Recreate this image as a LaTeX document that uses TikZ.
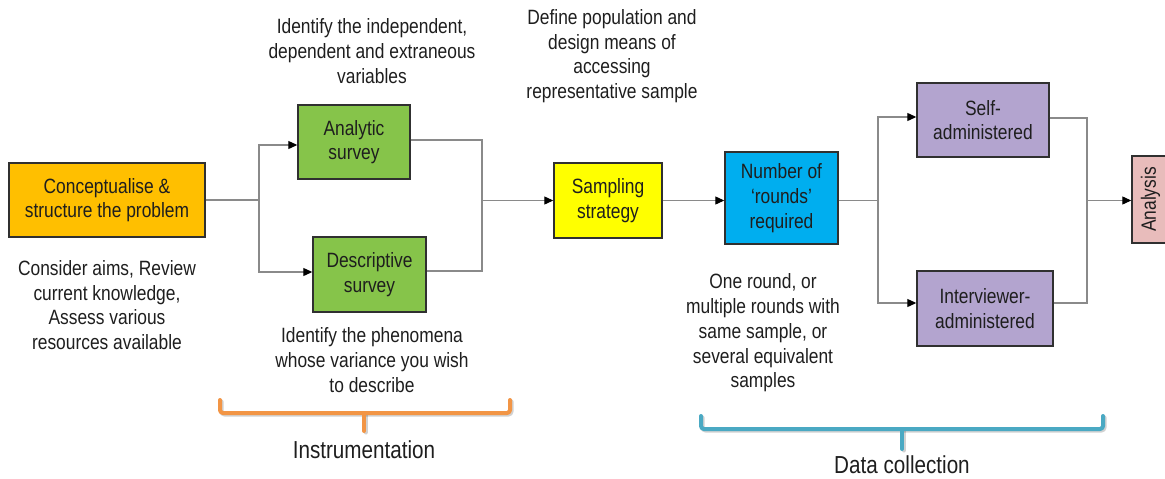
\documentclass[tikz,border=0pt]{standalone}
\usepackage{fontspec}
\setmainfont{Liberation Sans}[FakeStretch=0.84]
\usetikzlibrary{arrows.meta}
\definecolor{orangebox}{HTML}{FFBF00}
\definecolor{greenbox}{HTML}{86C44A}
\definecolor{yellowbox}{HTML}{FFFF00}
\definecolor{bluebox}{HTML}{00AEEF}
\definecolor{purplebox}{HTML}{B3A4CF}
\definecolor{pinkbox}{HTML}{E8BCBB}
\definecolor{boxline}{HTML}{303030}
\definecolor{linkc}{HTML}{8A8A8A}
\definecolor{textc}{HTML}{1E1E1E}
\definecolor{orangebr}{HTML}{F29545}
\definecolor{bluebr}{HTML}{4AA9C3}
\begin{document}
\begin{tikzpicture}[x=1pt,y=-1pt,
  font=\fontsize{20.7}{24.7}\selectfont,
  box/.style={draw=boxline, line width=1.4pt, align=center, inner sep=0pt, text=textc},
  link/.style={draw=linkc, line width=1.1pt},
  arr/.style={link, -{Triangle[black,length=9pt,width=8pt]}},
  note/.style={align=center, text=textc, inner sep=0pt},
  bracket/.style={line width=4pt, line cap=round, line join=round, rounded corners=3pt},
  brshadow/.style={bracket, draw=black, opacity=0.18, shift={(1.5,1.5)}},
  grouplabel/.style={text=textc, inner sep=0pt, font=\fontsize{24.6}{28}\selectfont}
]
\useasboundingbox (0,0) rectangle (1165,479);
\clip (0,0) rectangle (1165,479);

% process boxes
\node[box, fill=orangebox, minimum width=196pt, minimum height=74pt] (concept) at (107,200) {Conceptualise \&\\structure the problem};
\node[box, fill=greenbox, minimum width=112pt, minimum height=74pt] (analytic) at (354,142) {Analytic\\survey};
\node[box, fill=greenbox, minimum width=113pt, minimum height=75pt] (descr) at (369.5,274.5) {Descriptive\\survey};
\node[box, fill=yellowbox, minimum width=108pt, minimum height=75pt] (sampling) at (608,200.5) {Sampling\\strategy};
\node[box, fill=bluebox, minimum width=113pt, minimum height=92pt] (number) at (781.5,198) {Number of\\‘rounds’\\required};
\node[box, fill=purplebox, minimum width=132pt, minimum height=74pt] (self) at (983,120) {Self-\\administered};
\node[box, fill=purplebox, minimum width=136pt, minimum height=75pt] (interv) at (985,308.5) {Interviewer-\\administered};
\node[box, fill=pinkbox, rotate=90, minimum width=87pt, minimum height=37pt] (analysis) at (1150.5,199.5) {Analysis};

% notes
\node[note] (nconcept) at (107,305) {Consider aims, Review\\current knowledge,\\Assess various\\resources available};
\node[note] (nanalytic) at (372,51) {Identify the independent,\\dependent and extraneous\\variables};
\node[note] (ndescr) at (372,360) {Identify the phenomena\\whose variance you wish\\to describe};
\node[note] (nsampling) at (612,56) {Define population and\\design means of\\accessing\\representative sample};
\node[note] (nnumber) at (763,333) {One round, or\\multiple rounds with\\same sample, or\\several equivalent\\samples};

% connectors
\coordinate (s1) at (259,200);
\coordinate (m1) at (482,200.5);
\coordinate (s2) at (878,200.5);
\coordinate (m2) at (1087,200.5);
\draw[link] (concept.east) -- (s1);
\draw[arr] (s1) |- ([yshift=-3pt]analytic.west);
\draw[arr] (s1) |- ([yshift=2.5pt]descr.west);
\draw[link] ([yshift=2pt]analytic.east) -| (m1);
\draw[link] ([yshift=3.5pt]descr.east) -| (m1);
\draw[arr] (m1) -- (sampling.west);
\draw[arr] (sampling.east) -- (sampling.east -| number.west);
\draw[link] (number.east |- s2) -- (s2);
\draw[arr] (s2) |- ([yshift=3pt]self.west);
\draw[arr] (s2) |- ([yshift=5.5pt]interv.west);
\draw[link] ([yshift=2pt]self.east) -| (m2);
\draw[link] ([yshift=5.5pt]interv.east) -| (m2);
\draw[arr] (m2) -- (m2 -| analysis.north);

% group brackets
\draw[brshadow] (220,400) -- (220,413) -- (510,413) -- (510,400);
\draw[brshadow] (364,413) -- (364,431);
\draw[bracket, draw=orangebr] (220,400) -- (220,413) -- (510,413) -- (510,400);
\draw[bracket, draw=orangebr] (364,413) -- (364,431);
\node[grouplabel] (instr) at (364,450) {Instrumentation};

\draw[brshadow] (701,416) -- (701,429) -- (1103,429) -- (1103,416);
\draw[brshadow] (902,429) -- (902,449);
\draw[bracket, draw=bluebr] (701,416) -- (701,429) -- (1103,429) -- (1103,416);
\draw[bracket, draw=bluebr] (902,429) -- (902,449);
\node[grouplabel] (datac) at (902,465) {Data collection};
\end{tikzpicture}
\end{document}
